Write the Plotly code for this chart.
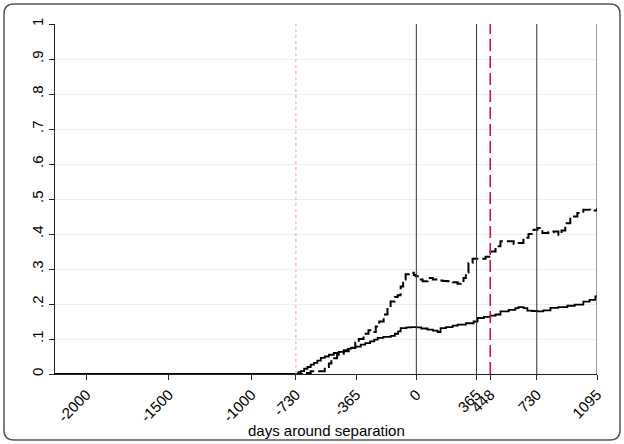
import plotly.graph_objects as go

# Solid series (step function)
solid_days = [-2190, -730, -715, -700, -680, -660, -640, -620, -600, -579, -555, -530, -500, -470,
              -440, -415, -398, -370, -337, -310, -280, -255, -234, -200, -155, -130, -110, -95,
              -60, -30, 0, 30, 68, 100, 129, 147, 180, 220, 250, 300, 347, 371, 410, 449, 480,
              510, 560, 600, 619, 650, 673, 700, 734, 770, 813, 860, 915, 960, 1012, 1050, 1085, 1095]
solid_vals = [0, 0, 0.005, 0.008, 0.015, 0.02, 0.027, 0.032, 0.038, 0.046, 0.05, 0.055, 0.06, 0.063,
              0.068, 0.072, 0.074, 0.078, 0.084, 0.088, 0.093, 0.098, 0.103, 0.106, 0.109, 0.115, 0.122, 0.131,
              0.133, 0.134, 0.133, 0.13, 0.127, 0.124, 0.12, 0.131, 0.134, 0.138, 0.141, 0.145, 0.15, 0.16, 0.163, 0.167, 0.17,
              0.179, 0.183, 0.188, 0.191, 0.188, 0.181, 0.18, 0.179, 0.182, 0.189, 0.191, 0.195, 0.198, 0.207, 0.212, 0.222, 0.222]

# Dashed series (step function)
dashed_days = [-2190, -730, -680, -640, -567, -555, -530, -515, -480, -440, -410, -398, -370, -349,
               -320, -290, -270, -246, -225, -198, -175, -156, -130, -113, -95, -80, -65, -34, -15,
               -4, 20, 38, 68, 100, 129, 160, 189, 220, 250, 270, 286, 300, 316, 341, 389, 420, 449,
               480, 510, 570, 590, 613, 649, 680, 710, 734, 764, 800, 831, 861, 880, 903, 933, 976,
               1012, 1054, 1095]
dashed_vals = [0, 0, 0.003, 0.008, 0.008, 0.02, 0.03, 0.045, 0.055, 0.065, 0.072, 0.075, 0.09, 0.1,
               0.115, 0.125, 0.12, 0.136, 0.15, 0.17, 0.19, 0.207, 0.22, 0.225, 0.25, 0.27, 0.285, 0.289, 0.283,
               0.279, 0.27, 0.265, 0.274, 0.27, 0.267, 0.266, 0.265, 0.262, 0.258, 0.266, 0.274, 0.29, 0.317, 0.329, 0.329, 0.335, 0.35,
               0.365, 0.379, 0.379, 0.372, 0.374, 0.389, 0.4, 0.412, 0.417, 0.403, 0.405, 0.407, 0.398, 0.41, 0.431, 0.45, 0.46,
               0.469, 0.467, 0.474]

x_tickvals = [-2000, -1500, -1000, -730, -365, 0, 365, 448, 730, 1095]
x_ticktext = ["-2000", "-1500", "-1000", "-730", "-365", "0", "365", "448", "730", "1095"]
y_tickvals = [0, 0.1, 0.2, 0.3, 0.4, 0.5, 0.6, 0.7, 0.8, 0.9, 1]
y_ticktext = ["0", ".1", ".2", ".3", ".4", ".5", ".6", ".7", ".8", ".9", "1"]
x_title = "days around separation"

solid_vlines = [0, 365, 730, 1095]
pink_vline = -730
red_vline = 448

fig = go.Figure()

for v in solid_vlines:
    fig.add_vline(x=v, line=dict(color="#333333", width=1))
fig.add_vline(x=pink_vline, line=dict(color="#eba3bb", width=1, dash="dot"))
fig.add_vline(x=red_vline, line=dict(color="#c8163f", width=1.6, dash="12px,5px"))

fig.add_trace(go.Scatter(x=solid_days, y=solid_vals, mode="lines", line_shape="hv",
                         line=dict(color="black", width=1.8), showlegend=False))
fig.add_trace(go.Scatter(x=dashed_days, y=dashed_vals, mode="lines", line_shape="hv",
                         line=dict(color="black", width=2, dash="10px,4px"), showlegend=False))

# outer rounded frame (paper coords: plot area x 55..597 px, y 374..24 px)
def px(xp):
    return (xp - 55) / 542.0
def py(yp):
    return (374.0 - yp) / 350.0
L, R, T, B, r = 4, 620, 4, 440, 10
path = (f"M {px(L)},{py(T + r)} Q {px(L)},{py(T)} {px(L + r)},{py(T)} "
        f"L {px(R - r)},{py(T)} Q {px(R)},{py(T)} {px(R)},{py(T + r)} "
        f"L {px(R)},{py(B - r)} Q {px(R)},{py(B)} {px(R - r)},{py(B)} "
        f"L {px(L + r)},{py(B)} Q {px(L)},{py(B)} {px(L)},{py(B - r)} Z")
fig.add_shape(type="path", path=path, xref="paper", yref="paper",
              line=dict(color="#555555", width=1.5), layer="below")

fig.add_annotation(text=x_title, xref="paper", yref="paper", x=0.5, y=py(430),
                   xanchor="center", yanchor="middle", showarrow=False,
                   font=dict(size=15))

fig.update_layout(
    width=624, height=444,
    margin=dict(l=55, r=27, t=24, b=70),
    paper_bgcolor="white", plot_bgcolor="white",
    font=dict(family="Liberation Sans, Arial, sans-serif", size=15, color="black"),
    xaxis=dict(range=[-2190, 1095], tickvals=x_tickvals, ticktext=x_ticktext, tickangle=-45,
               showgrid=False, zeroline=False, showline=True, linecolor="#222", linewidth=1,
               ticks="outside", ticklen=5, tickcolor="#222", tickfont=dict(size=15),
               automargin=False),
    yaxis=dict(range=[0, 1], tickvals=y_tickvals, ticktext=y_ticktext, tickangle=-90,
               showgrid=True, gridcolor="#e9f0f2", gridwidth=1, zeroline=False,
               showline=True, linecolor="#222", linewidth=1, automargin=False,
               ticks="outside", ticklen=5, tickcolor="#222", tickfont=dict(size=15)),
)

fig.write_html("out.html", config={"displayModeBar": False},
               post_script="document.body.style.margin='0';")
